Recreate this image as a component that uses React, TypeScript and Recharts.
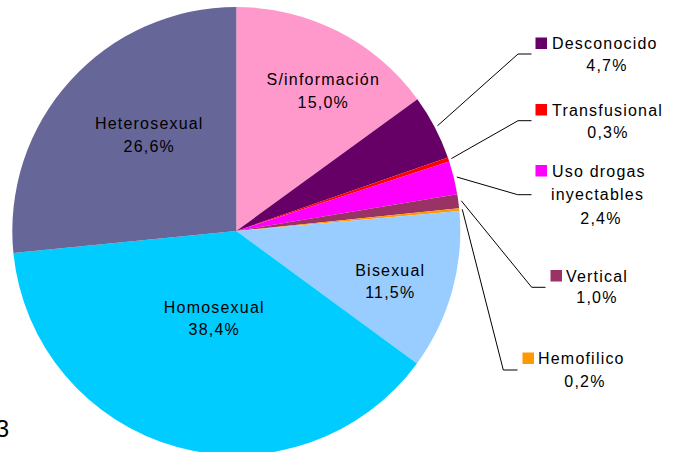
import React from "react";
import { PieChart, Pie, Cell } from "recharts";

const categories = [
  "S/información",
  "Desconocido",
  "Transfusional",
  "Uso drogas inyectables",
  "Vertical",
  "Hemofilico",
  "Bisexual",
  "Homosexual",
  "Heterosexual",
];
const values = [15.0, 4.7, 0.3, 2.4, 1.0, 0.2, 11.5, 38.4, 26.6];
const colors = [
  "#FF99CC",
  "#660066",
  "#FF0000",
  "#FF00FF",
  "#993366",
  "#FF9900",
  "#99CCFF",
  "#00CCFF",
  "#666699",
];

const data = categories.map((name, i) => ({ name, value: values[i] }));

const FONT = '"Liberation Sans", Arial, sans-serif';
const FS = 16;
const LS = 1.2;

// inside label placement (offset of text centre / first baseline from pie centre)
const insideLayout: Record<string, { dx: number; dy: number; gap: number }> = {
  "S/información": { dx: 87, dy: -146, gap: 22.5 },
  Bisexual: { dx: 154, dy: 44.7, gap: 22.6 },
  Homosexual: { dx: -22, dy: 82.3, gap: 22 },
  Heterosexual: { dx: -87, dy: -102, gap: 22.7 },
};

// outside label placement (absolute)
const outsideLayout: Record<
  string,
  {
    elbow: [number, number];
    endX: number;
    sq: [number, number];
    lines: { text: string; x: number; y: number; anchor: "start" | "middle" }[];
    pct: [number, number];
  }
> = {
  Desconocido: {
    elbow: [518, 54],
    endX: 531.5,
    sq: [535.5, 37.5],
    lines: [{ text: "Desconocido", x: 552, y: 48.5, anchor: "start" }],
    pct: [607, 71],
  },
  Transfusional: {
    elbow: [518, 120.7],
    endX: 531.5,
    sq: [535.5, 104],
    lines: [{ text: "Transfusional", x: 552, y: 115.5, anchor: "start" }],
    pct: [608, 138],
  },
  "Uso drogas inyectables": {
    elbow: [517.7, 194.7],
    endX: 531.5,
    sq: [535.5, 165],
    lines: [
      { text: "Uso drogas", x: 552, y: 176.5, anchor: "start" },
      { text: "inyectables", x: 597.5, y: 200, anchor: "middle" },
    ],
    pct: [601, 224],
  },
  Vertical: {
    elbow: [531.7, 287.3],
    endX: 545.5,
    sq: [550.5, 270],
    lines: [{ text: "Vertical", x: 566, y: 281.5, anchor: "start" }],
    pct: [597, 303],
  },
  Hemofilico: {
    elbow: [503.3, 370],
    endX: 517.5,
    sq: [522.5, 352.5],
    lines: [{ text: "Hemofilico", x: 538, y: 364, anchor: "start" }],
    pct: [585, 386.5],
  },
};

const fmt = (v: number) => v.toFixed(1).replace(".", ",") + "%";

const RAD = Math.PI / 180;

const renderLabel = (props: any) => {
  const { cx, cy, midAngle, outerRadius, index } = props;
  const name = categories[index];
  const value = values[index];
  const inside = insideLayout[name];
  if (inside) {
    const x = cx + inside.dx;
    const y = cy + inside.dy;
    return (
      <g key={`lbl-${index}`}>
        <text
          x={x}
          y={y}
          textAnchor="middle"
          fontFamily={FONT}
          fontSize={FS}
          letterSpacing={LS}
          fill="#000"
        >
          {name}
        </text>
        <text
          x={x}
          y={y + inside.gap}
          textAnchor="middle"
          fontFamily={FONT}
          fontSize={FS}
          letterSpacing={LS}
          fill="#000"
        >
          {fmt(value)}
        </text>
      </g>
    );
  }
  const out = outsideLayout[name];
  if (!out) return null;
  const r = outerRadius + 3;
  const sx = cx + r * Math.cos(-midAngle * RAD);
  const sy = cy + r * Math.sin(-midAngle * RAD);
  return (
    <g key={`lbl-${index}`}>
      <polyline
        points={`${sx},${sy} ${out.elbow[0]},${out.elbow[1]} ${out.endX},${out.elbow[1]}`}
        fill="none"
        stroke="#000"
        strokeWidth={1}
      />
      <rect x={out.sq[0]} y={out.sq[1]} width={11.5} height={11.5} fill={colors[index]} />
      {out.lines.map((l, k) => (
        <text
          key={k}
          x={l.x}
          y={l.y}
          textAnchor={l.anchor}
          fontFamily={FONT}
          fontSize={FS}
          letterSpacing={LS}
          fill="#000"
        >
          {l.text}
        </text>
      ))}
      <text
        x={out.pct[0]}
        y={out.pct[1]}
        textAnchor="middle"
        fontFamily={FONT}
        fontSize={FS}
        letterSpacing={LS}
        fill="#000"
      >
        {fmt(value)}
      </text>
    </g>
  );
};

export default function App() {
  return (
    <div style={{ position: "absolute", left: 0, top: 0, width: 681, height: 452, background: "#fff" }}>
      <PieChart width={681} height={452} margin={{ top: 0, right: 0, bottom: 0, left: 0 }}>
        <Pie
          data={data}
          dataKey="value"
          nameKey="name"
          cx={236.3}
          cy={231}
          outerRadius={224}
          startAngle={90}
          endAngle={-270}
          stroke="none"
          label={renderLabel}
          labelLine={false}
          isAnimationActive={false}
        >
          {data.map((d, i) => (
            <Cell key={d.name} fill={colors[i]} />
          ))}
        </Pie>
        <text x={9} y={437} textAnchor="end" fontFamily={FONT} fontSize={24} fill="#000">
          3
        </text>
      </PieChart>
    </div>
  );
}
